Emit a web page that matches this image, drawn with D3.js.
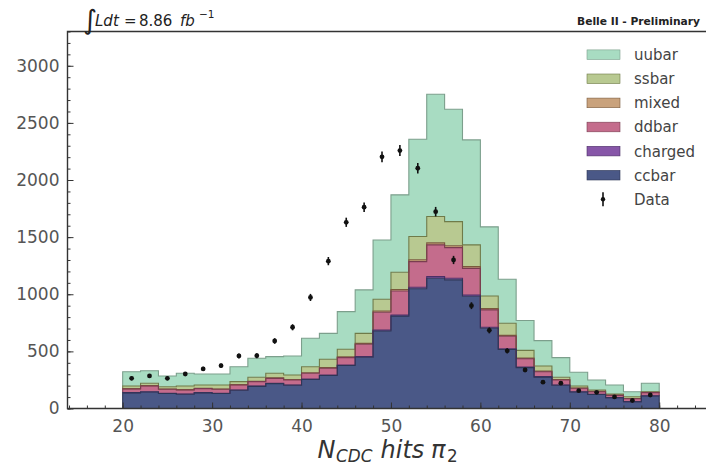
<!DOCTYPE html>
<html>
<head>
<meta charset="utf-8">
<script src="https://cdn.jsdelivr.net/npm/d3@7"></script>
<style>
  html, body { margin: 0; padding: 0; background: #fff; }
  svg { display: block; }
</style>
</head>
<body>
<svg id="chart" width="706" height="466"></svg>
<script>
// Histogram bins: lower edges, width 2 hits
const binLow = [20, 22, 24, 26, 28, 30, 32, 34, 36, 38, 40, 42, 44, 46, 48,
                50, 52, 54, 56, 58, 60, 62, 64, 66, 68, 70, 72, 74, 76, 78];
const binWidth = 2;

// Simulated samples (events per bin), stacked bottom to top
const ccbar   = [137, 145, 131, 125, 137, 131, 160, 194, 218, 203, 254, 289, 376, 448, 678,
                 809, 1048, 1140, 1126, 982, 702, 516, 358, 275, 203, 145, 122, 94, 59, 110];
const charged = [2, 2, 2, 2, 2, 2, 2, 3, 3, 3, 4, 4, 5, 6, 9,
                 10, 13, 14, 14, 12, 9, 6, 5, 4, 3, 2, 2, 1, 1, 2];
const ddbar   = [32, 50, 35, 35, 35, 35, 44, 38, 43, 44, 50, 59, 64, 108, 155,
                 210, 225, 278, 268, 233, 152, 110, 72, 43, 44, 30, 23, 20, 26, 27];
const mixed   = [3, 3, 3, 3, 3, 3, 3, 4, 4, 4, 5, 6, 7, 8, 11,
                 13, 16, 18, 17, 15, 11, 8, 6, 5, 4, 3, 3, 2, 2, 2];
const ssbar   = [23, 21, 20, 32, 29, 35, 26, 34, 40, 39, 53, 73, 66, 88, 103,
                 150, 203, 230, 211, 190, 111, 106, 68, 45, 19, 17, 12, 10, 15, 6];
const uubar   = [125, 110, 94, 111, 96, 96, 131, 167, 146, 167, 249, 227, 330, 380, 519,
                 678, 852, 1071, 984, 919, 605, 386, 261, 222, 172, 120, 88, 79, 44, 74];

// Recorded data counts per bin
const dataCounts = [264, 285, 264, 302, 346, 375, 460, 462, 591, 711, 972, 1290, 1630, 1762, 2203,
                    2258, 2103, 1723, 1300, 900, 684, 505, 337, 230, 222, 156, 142, 101, 70, 118];

const xTicks = [20, 30, 40, 50, 60, 70, 80];
const yTicks = [0, 500, 1000, 1500, 2000, 2500, 3000];

const sampleKeys = ["ccbar", "charged", "ddbar", "mixed", "ssbar", "uubar"];
const sampleValues = { ccbar, charged, ddbar, mixed, ssbar, uubar };
const legendOrder = ["uubar", "ssbar", "mixed", "ddbar", "charged", "ccbar"];

const fillColor = {
  uubar: "#a8dcc2", ssbar: "#b8c991", mixed: "#c9a27c",
  ddbar: "#c46c8c", charged: "#8756a8", ccbar: "#4a5887"
};
const edgeColor = {
  uubar: "#7c9f8c", ssbar: "#6f7b49", mixed: "#7a5a3c",
  ddbar: "#7a3c50", charged: "#4c2f66", ccbar: "#2e3656"
};

const svg = d3.select("#chart");

const x = d3.scaleLinear().domain([13.83, 86.17]).range([67.5, 714.4]);
const y = d3.scaleLinear().domain([0, 3300]).range([408.5, 31.5]);

// rows for the stack, plus a closing row at the upper edge of the last bin
const rows = binLow.map((lo, i) => {
  const r = { lo };
  sampleKeys.forEach(k => r[k] = sampleValues[k][i]);
  return r;
});
const closing = Object.assign({}, rows[rows.length - 1], { lo: binLow[binLow.length - 1] + binWidth });
rows.push(closing);

const series = d3.stack().keys(sampleKeys)(rows);

const area = d3.area()
  .x(d => x(d.data.lo))
  .y0(d => y(d[0]))
  .y1(d => y(d[1]))
  .curve(d3.curveStepAfter);

const plot = svg.append("g");

plot.selectAll("path.fill")
  .data(series)
  .join("path")
  .attr("class", "fill")
  .attr("d", area)
  .attr("fill", s => fillColor[s.key])
  .attr("stroke", "none");

// step outlines on top of each layer, closed down the outer sides
const outline = d3.line().x(p => x(p[0])).y(p => y(p[1])).curve(d3.curveStepAfter);
series.slice().reverse().forEach(s => {
  const pts = [[s[0].data.lo, s[0][0]]];
  s.forEach(d => pts.push([d.data.lo, d[1]]));
  const last = s[s.length - 1];
  pts.push([last.data.lo, last[0]]);
  plot.append("path")
    .attr("d", outline(pts))
    .attr("fill", "none")
    .attr("stroke", edgeColor[s.key])
    .attr("stroke-width", 1.1);
});

// data points with Poisson error bars
const pts = svg.append("g");
dataCounts.forEach((n, i) => {
  const cx = x(binLow[i] + binWidth / 2);
  const err = Math.sqrt(n);
  pts.append("line")
    .attr("x1", cx).attr("x2", cx)
    .attr("y1", y(n - err)).attr("y2", y(n + err))
    .attr("stroke", "#111").attr("stroke-width", 1.6);
  pts.append("circle")
    .attr("cx", cx).attr("cy", y(n)).attr("r", 2.4)
    .attr("fill", "#111");
});

// axes (ticks pointing inward)
const tickFont = "DejaVu Sans, sans-serif";
const yAxis = svg.append("g").attr("transform", `translate(${x.range()[0]},0)`)
  .call(d3.axisLeft(y).tickValues(yTicks).tickFormat(d3.format("d"))
    .tickSizeInner(-6).tickSizeOuter(0).tickPadding(8));
const yMinor = svg.append("g").attr("transform", `translate(${x.range()[0]},0)`)
  .call(d3.axisLeft(y).tickValues(d3.range(0, 3301, 100)).tickSizeInner(-3).tickSizeOuter(0).tickFormat(""));
const xAxis = svg.append("g").attr("transform", `translate(0,${y.range()[0]})`)
  .call(d3.axisBottom(x).tickValues(xTicks).tickFormat(d3.format("d"))
    .tickSizeInner(-6).tickSizeOuter(0).tickPadding(11.5));
const xMinor = svg.append("g").attr("transform", `translate(0,${y.range()[0]})`)
  .call(d3.axisBottom(x).tickValues(d3.range(14, 87, 2)).tickSizeInner(-3).tickSizeOuter(0).tickFormat(""));

[yAxis, yMinor, xAxis, xMinor].forEach(g => {
  g.select(".domain").remove();
  g.selectAll(".tick line").attr("stroke", "#333").attr("stroke-width", 1);
  g.selectAll(".tick text")
    .attr("fill", "#555")
    .style("font-family", tickFont)
    .style("font-size", "17px");
});

// frame
const [fx0, fx1] = x.range();
const [fy0, fy1] = y.range();
svg.append("path")
  .attr("d", `M${fx1},${fy1}H${fx0}V${fy0}H${fx1}`)
  .attr("fill", "none")
  .attr("stroke", "#333")
  .attr("stroke-width", 1.4);

// legend
const legend = svg.append("g").style("font-family", tickFont).style("font-size", "15px");
legendOrder.forEach((k, i) => {
  const cy = 54.7 + i * 24.1;
  legend.append("rect")
    .attr("x", 587).attr("y", cy - 4.8).attr("width", 33).attr("height", 9.6)
    .attr("fill", fillColor[k]).attr("stroke", edgeColor[k]).attr("stroke-width", 0.6);
  legend.append("text")
    .attr("x", 634).attr("y", cy + 5.4)
    .attr("fill", "#444").text(k);
});
{
  const cy = 54.7 + 6 * 24.1;
  legend.append("line")
    .attr("x1", 603).attr("x2", 603).attr("y1", cy - 7).attr("y2", cy + 7)
    .attr("stroke", "#111").attr("stroke-width", 1.6);
  legend.append("circle").attr("cx", 603).attr("cy", cy).attr("r", 2.2).attr("fill", "#111");
  legend.append("text").attr("x", 634).attr("y", cy + 5.4).attr("fill", "#444").text("Data");
}

// luminosity label
const lum = svg.append("text")
  .attr("fill", "#222")
  .style("font-family", tickFont)
  .style("font-size", "15px");
lum.append("tspan").attr("x", 83).attr("y", 29).style("font-size", "27px").text("\u222B");
lum.append("tspan").attr("x", 95).attr("y", 26).style("font-style", "italic").text("Ldt");
lum.append("tspan").attr("x", 124).attr("y", 26).text("=");
lum.append("tspan").attr("x", 139).attr("y", 26).text("8.86");
lum.append("tspan").attr("x", 180).attr("y", 26).style("font-style", "italic").text("fb");
lum.append("tspan").attr("x", 199).attr("y", 18).style("font-size", "10.5px").text("\u22121");

// experiment tag
svg.append("text")
  .attr("x", 577).attr("y", 25)
  .attr("fill", "#222")
  .style("font-family", tickFont)
  .style("font-weight", "bold")
  .style("font-size", "10.7px")
  .text("Belle II - Preliminary");

// x axis title
const xt = svg.append("text")
  .attr("fill", "#333")
  .style("font-family", tickFont)
  .style("font-style", "italic")
  .style("font-size", "24px");
xt.append("tspan").attr("x", 317.5).attr("y", 458).text("N");
xt.append("tspan").attr("x", 336).attr("y", 461.5).style("font-size", "16.8px").text("CDC");
xt.append("tspan").attr("x", 380.5).attr("y", 458).text("hits");
xt.append("tspan").attr("x", 431).attr("y", 458).text("\u03C0");
xt.append("tspan").attr("x", 447).attr("y", 461.5).style("font-size", "16.8px").style("font-style", "normal").text("2");
</script>
</body>
</html>
